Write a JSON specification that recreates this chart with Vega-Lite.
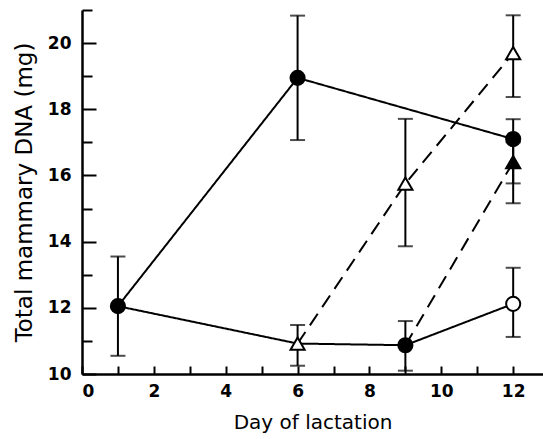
{
  "$schema": "https://vega.github.io/schema/vega-lite/v6.json",
  "width": 461,
  "height": 364,
  "autosize": "none",
  "padding": {"left": 82, "top": 10, "right": 0, "bottom": 65},
  "background": "white",
  "config": {
    "view": {"stroke": null},
    "font": "DejaVu Sans",
    "axis": {
      "domainColor": "black",
      "domainWidth": 2.5,
      "tickColor": "black",
      "tickWidth": 2,
      "labelColor": "black",
      "labelFontSize": 17,
      "labelFontWeight": "bold",
      "labelFont": "DejaVu Sans",
      "titleFont": "DejaVu Sans",
      "titleFontWeight": "normal",
      "titleColor": "black",
      "grid": false
    }
  },
  "resolve": {"axis": {"x": "independent", "y": "independent"}},
  "datasets": {
    "lines": [
      {"line": "L1", "type": "solid", "day": 1, "dna": 12.05},
      {"line": "L1", "type": "solid", "day": 6, "dna": 18.95},
      {"line": "L1", "type": "solid", "day": 12, "dna": 17.1},
      {"line": "L2", "type": "solid", "day": 1, "dna": 12.05},
      {"line": "L2", "type": "solid", "day": 6, "dna": 10.92},
      {"line": "L2", "type": "solid", "day": 9, "dna": 10.87},
      {"line": "L2", "type": "solid", "day": 12, "dna": 12.12},
      {"line": "L3", "type": "dashed", "day": 6, "dna": 10.92},
      {"line": "L3", "type": "dashed", "day": 9, "dna": 15.75},
      {"line": "L3", "type": "dashed", "day": 12, "dna": 19.7},
      {"line": "L4", "type": "dashed", "day": 9, "dna": 10.87},
      {"line": "L4", "type": "dashed", "day": 12, "dna": 16.4}
    ],
    "points": [
      {"group": "A", "day": 1, "dna": 12.05, "lo": 10.55, "hi": 13.55},
      {"group": "A", "day": 6, "dna": 18.95, "lo": 17.07, "hi": 20.83},
      {"group": "A", "day": 12, "dna": 17.1, "lo": 15.76, "hi": 17.7},
      {"group": "A", "day": 9, "dna": 10.87, "lo": 10.1, "hi": 11.6},
      {"group": "C", "day": 6, "dna": 10.92, "lo": 10.25, "hi": 11.48},
      {"group": "C", "day": 9, "dna": 15.75, "lo": 13.86, "hi": 17.71},
      {"group": "C", "day": 12, "dna": 19.7, "lo": 18.37, "hi": 20.84},
      {"group": "D", "day": 12, "dna": 16.4, "lo": 15.16, "hi": 17.0},
      {"group": "B", "day": 12, "dna": 12.12, "lo": 11.12, "hi": 13.21}
    ]
  },
  "layer": [
    {
      "data": {"name": "lines"},
      "mark": {"type": "line", "color": "black", "strokeWidth": 2},
      "encoding": {
        "x": {
          "field": "day", "type": "quantitative",
          "scale": {"domain": [0, 12.83], "nice": false, "zero": false},
          "axis": {
            "orient": "bottom",
            "title": "Day of lactation",
            "titleFontSize": 20,
            "values": [0, 2, 4, 6, 8, 10, 12],
            "ticks": false,
            "labelPadding": 9,
            "titlePadding": 13
          }
        },
        "y": {
          "field": "dna", "type": "quantitative",
          "scale": {"domain": [10, 21], "nice": false, "zero": false},
          "axis": {
            "orient": "left",
            "title": "Total mammary DNA (mg)",
            "titleFontSize": 23,
            "values": [10, 12, 14, 16, 18, 20],
            "ticks": false,
            "labelPadding": 11,
            "titlePadding": 11
          }
        },
        "detail": {"field": "line"},
        "strokeDash": {
          "field": "type", "type": "nominal",
          "scale": {"domain": ["solid", "dashed"], "range": [[1, 0], [14, 8]]},
          "legend": null
        }
      }
    },
    {
      "data": {"name": "points"},
      "mark": {"type": "rule", "color": "black", "strokeWidth": 2},
      "encoding": {
        "x": {
          "field": "day", "type": "quantitative",
          "axis": {
            "orient": "top",
            "offset": -364,
            "title": null,
            "labels": false,
            "domain": false,
            "values": [0, 1, 2, 3, 4, 5, 6, 7, 8, 9, 10, 11, 12],
            "tickSize": 8
          }
        },
        "y": {
          "field": "lo", "type": "quantitative",
          "axis": {
            "orient": "right",
            "offset": -461,
            "title": null,
            "labels": false,
            "domain": false,
            "values": [10, 11, 12, 13, 14, 15, 16, 17, 18, 19, 20, 21],
            "tickSize": {"condition": {"test": "datum.value % 2 == 0", "value": 14}, "value": 10}
          }
        },
        "y2": {"field": "hi"}
      }
    },
    {
      "data": {"name": "points"},
      "mark": {"type": "tick", "orient": "horizontal", "color": "black", "size": 15, "thickness": 2},
      "encoding": {
        "x": {"field": "day", "type": "quantitative", "axis": null},
        "y": {"field": "lo", "type": "quantitative", "axis": null}
      }
    },
    {
      "data": {"name": "points"},
      "mark": {"type": "tick", "orient": "horizontal", "color": "black", "size": 15, "thickness": 2},
      "encoding": {
        "x": {"field": "day", "type": "quantitative", "axis": null},
        "y": {"field": "hi", "type": "quantitative", "axis": null}
      }
    },
    {
      "data": {"name": "points"},
      "mark": {"type": "point", "stroke": "black", "strokeWidth": 2, "opacity": 1, "fillOpacity": 1, "size": 200},
      "encoding": {
        "x": {"field": "day", "type": "quantitative", "axis": null},
        "y": {"field": "dna", "type": "quantitative", "axis": null},
        "shape": {
          "field": "group", "type": "nominal",
          "scale": {"domain": ["A", "B", "C", "D"], "range": ["circle", "circle", "triangle-up", "triangle-up"]},
          "legend": null
        },
        "fill": {
          "field": "group", "type": "nominal",
          "scale": {"domain": ["A", "B", "C", "D"], "range": ["black", "white", "white", "black"]},
          "legend": null
        }
      }
    }
  ]
}
